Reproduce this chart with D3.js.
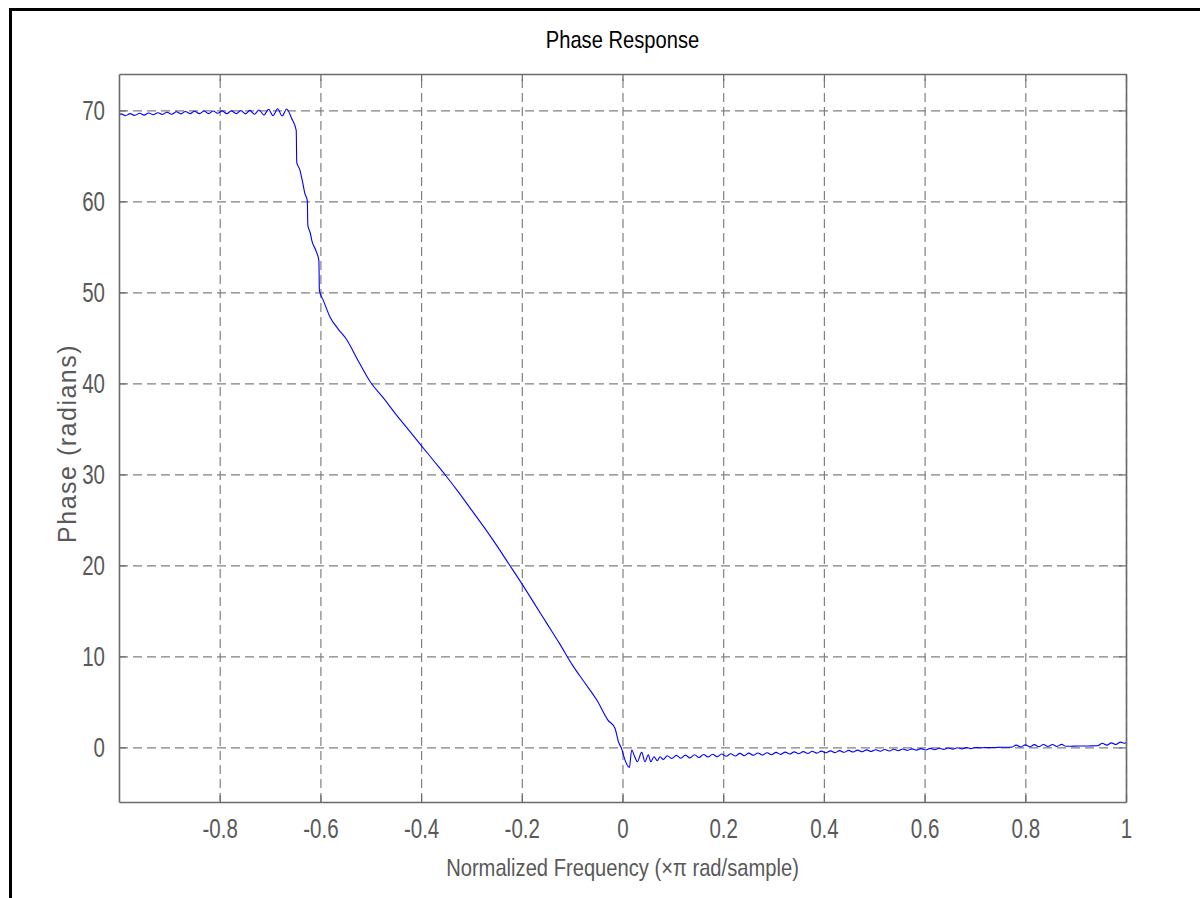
<!DOCTYPE html>
<html>
<head>
<meta charset="utf-8">
<script src="https://cdn.jsdelivr.net/npm/d3@7"></script>
<style>
  body { margin: 0; background: #fff; }
  svg { display: block; }
  text { font-family: "Liberation Sans", Arial, sans-serif; }
</style>
</head>
<body>
<div id="chart"></div>
<script>
var title = "Phase Response";
var xLabel = "Normalized Frequency (\u00d7\u03c0 rad/sample)";
var yLabel = "Phase (radians)";

var xTicks = [-0.8, -0.6, -0.4, -0.2, 0, 0.2, 0.4, 0.6, 0.8, 1];
var yTicks = [0, 10, 20, 30, 40, 50, 60, 70];

// flat part before the drop
var freqA = [-1.000, -0.996, -0.987, -0.978, -0.969, -0.959, -0.950, -0.941, -0.932, -0.923, -0.914, -0.905,
  -0.895, -0.886, -0.877, -0.868, -0.859, -0.850, -0.840, -0.831, -0.822, -0.813, -0.804, -0.795, -0.786,
  -0.777, -0.767, -0.758, -0.749, -0.740, -0.731, -0.722, -0.712, -0.703, -0.694, -0.685, -0.676, -0.667];
var phaseA = [69.45, 69.62, 69.42, 69.65, 69.45, 69.68, 69.48, 69.72, 69.52, 69.75, 69.55, 69.80,
  69.58, 69.85, 69.62, 69.88, 69.65, 69.90, 69.65, 69.93, 69.65, 69.93, 69.68, 69.95, 69.65,
  69.95, 69.65, 69.98, 69.62, 70.00, 69.58, 70.05, 69.50, 70.12, 69.42, 70.18, 69.38, 70.15];

// drop and the long slope down to zero
var freqB = [-0.657, -0.648, -0.647, -0.641, -0.636, -0.631, -0.626, -0.625, -0.620, -0.617, -0.609, -0.603,
  -0.602, -0.594, -0.581, -0.565, -0.549, -0.525, -0.500, -0.475, -0.450, -0.425, -0.400, -0.375, -0.350,
  -0.325, -0.300, -0.275, -0.250, -0.225, -0.200, -0.175, -0.150, -0.125, -0.100, -0.075, -0.051, -0.029,
  -0.015, -0.008, -0.002, 0.005, 0.0136, 0.0183, 0.0235, 0.0294, 0.0381, 0.0447, 0.0513, 0.056, 0.0626,
  0.0692, 0.0745, 0.081];
var phaseB = [69.1, 67.8, 64.3, 63.5, 62.3, 60.9, 60.1, 57.4, 56.5, 55.7, 54.6, 53.5,
  50.2, 49.1, 47.3, 46.0, 44.9, 42.5, 40.1, 38.4, 36.6, 34.9, 33.2, 31.5, 29.8,
  28.0, 26.1, 24.2, 22.2, 20.1, 18.0, 15.8, 13.6, 11.4, 9.1, 7.1, 5.2, 3.0,
  2.1, 0.6, -0.1, -1.4, -2.2, -0.29, -0.91, -1.57, -0.55, -1.57, -0.8, -1.57, -1.02,
  -1.46, -1.02, -1.32];

// small ripple after zero
var freqC = [0.089, 0.098, 0.107, 0.116, 0.125, 0.134, 0.143, 0.152, 0.161, 0.170, 0.179, 0.188, 0.197,
  0.206, 0.215, 0.224, 0.233, 0.242, 0.251, 0.260, 0.269, 0.278, 0.287, 0.296, 0.305, 0.314, 0.323,
  0.332, 0.341, 0.350, 0.359, 0.368, 0.377, 0.386, 0.395, 0.404, 0.413, 0.422, 0.431, 0.440, 0.449,
  0.458, 0.467, 0.476, 0.485, 0.494, 0.503, 0.512, 0.521, 0.530, 0.539, 0.548, 0.557, 0.566, 0.575,
  0.584, 0.593, 0.602, 0.611, 0.620, 0.629, 0.638, 0.647, 0.656, 0.665, 0.674, 0.683, 0.692, 0.701];
var phaseC = [-0.92, -1.22, -0.88, -1.19, -0.85, -1.15, -0.81, -1.11, -0.78, -1.06, -0.75, -1.02, -0.72,
  -0.98, -0.69, -0.95, -0.66, -0.91, -0.63, -0.87, -0.61, -0.84, -0.58, -0.80, -0.55, -0.77, -0.52,
  -0.73, -0.49, -0.70, -0.46, -0.67, -0.43, -0.63, -0.41, -0.59, -0.38, -0.57, -0.35, -0.54, -0.33,
  -0.51, -0.30, -0.48, -0.27, -0.45, -0.25, -0.42, -0.23, -0.39, -0.21, -0.36, -0.18, -0.33, -0.16,
  -0.30, -0.13, -0.28, -0.11, -0.25, -0.09, -0.22, -0.06, -0.19, -0.04, -0.16, -0.02, -0.13, -0.01];

// tail up to pi
var freqD = [0.710, 0.719, 0.728, 0.737, 0.746, 0.755, 0.764, 0.773, 0.782, 0.791, 0.800, 0.809, 0.818,
  0.827, 0.836, 0.845, 0.854, 0.863, 0.872, 0.881, 0.890, 0.908, 0.926, 0.944, 0.953, 0.962, 0.971,
  0.980, 0.989, 0.998, 1.000];
var phaseD = [-0.04, -0.03, -0.02, -0.01, 0.00, 0.01, 0.02, 0.03, 0.25, 0.05, 0.28, 0.07, 0.30,
  0.08, 0.32, 0.10, 0.32, 0.11, 0.33, 0.12, 0.13, 0.15, 0.16, 0.18, 0.45, 0.25, 0.50,
  0.32, 0.58, 0.45, 0.55];

var freq = freqA.concat(freqB, freqC, freqD);
var phase = phaseA.concat(phaseB, phaseC, phaseD);
var data = freq.map(function(f, i) { return { f: f, p: phase[i] }; });

var W = 1200, H = 898;
var margin = { left: 119, top: 74, right: 74, bottom: 96 };
var width = W - margin.left - margin.right;
var height = H - margin.top - margin.bottom;
var narrow = 0.76; // the picture uses a condensed face; squeeze a normal one

var svg = d3.select("#chart").append("svg")
    .attr("width", W)
    .attr("height", H);

// figure frame (only left and top edges are in view)
svg.append("path")
    .attr("d", "M10.5," + H + "V9.5H" + W)
    .attr("fill", "none")
    .attr("stroke", "#000")
    .attr("stroke-width", 3);

var x = d3.scaleLinear().domain([-1, 1]).range([0, width]);
var y = d3.scaleLinear().domain([-6, 74]).range([height, 0]);

var g = svg.append("g")
    .attr("transform", "translate(" + margin.left + "," + margin.top + ")");

// dashed grid
g.append("g")
    .attr("class", "grid")
    .attr("transform", "translate(0," + height + ")")
    .call(d3.axisBottom(x).tickValues(xTicks).tickSize(-height).tickFormat(""))
    .call(function(s) { s.select(".domain").remove(); });
g.append("g")
    .attr("class", "grid")
    .call(d3.axisLeft(y).tickValues(yTicks).tickSize(-width).tickFormat(""))
    .call(function(s) { s.select(".domain").remove(); });
g.selectAll(".grid line")
    .attr("stroke", "#808080")
    .attr("stroke-width", 1.2)
    .attr("stroke-dasharray", "9,5");

// the curve
var line = d3.line()
    .curve(d3.curveMonotoneX)
    .x(function(d) { return x(d.f); })
    .y(function(d) { return y(d.p); });

g.append("path")
    .datum(data)
    .attr("fill", "none")
    .attr("stroke", "#0000ff")
    .attr("stroke-width", 1.1)
    .attr("stroke-linejoin", "round")
    .attr("d", line);

// axes with inward ticks
function fmt(d) { return String(+d.toFixed(1)); }

var xAxis = g.append("g")
    .attr("transform", "translate(0," + height + ")")
    .call(d3.axisBottom(x).tickValues(xTicks).tickSizeInner(-7).tickSizeOuter(0).tickPadding(17).tickFormat(fmt));
var xTop = g.append("g")
    .call(d3.axisTop(x).tickValues(xTicks).tickSizeInner(-7).tickSizeOuter(0).tickFormat(""));
var yAxis = g.append("g")
    .call(d3.axisLeft(y).tickValues(yTicks).tickSizeInner(-7).tickSizeOuter(0).tickPadding(14).tickFormat(fmt));
var yRight = g.append("g")
    .attr("transform", "translate(" + width + ",0)")
    .call(d3.axisRight(y).tickValues(yTicks).tickSizeInner(-7).tickSizeOuter(0).tickFormat(""));

[xAxis, xTop, yAxis, yRight].forEach(function(a) {
  a.selectAll(".domain").attr("stroke", "#6b6b6b").attr("stroke-width", 1.6);
  a.selectAll(".tick line").attr("stroke", "#6b6b6b").attr("stroke-width", 1.2);
  a.selectAll(".tick text")
    .attr("font-family", "'Liberation Sans', Arial, sans-serif")
    .attr("font-size", 27)
    .attr("fill", "#595959");
});
// squeeze tick labels horizontally around their anchor
xAxis.selectAll(".tick text").attr("transform", "scale(" + narrow + ",1)");
yAxis.selectAll(".tick text").each(function() {
  var t = d3.select(this);
  var tx = +t.attr("x");
  t.attr("x", 0).attr("transform", "translate(" + tx + ",0) scale(" + narrow + ",1)");
});

// texts
svg.append("text")
    .attr("transform", "translate(" + (margin.left + width / 2) + ",48) scale(0.84,1)")
    .attr("text-anchor", "middle")
    .attr("font-size", 24)
    .attr("fill", "#000")
    .text(title);

svg.append("text")
    .attr("transform", "translate(" + (margin.left + width / 2) + ",876) scale(0.84,1)")
    .attr("text-anchor", "middle")
    .attr("font-size", 24)
    .attr("fill", "#595959")
    .text(xLabel);

svg.append("text")
    .attr("transform", "translate(76," + (margin.top + y(40) + 60) + ") rotate(-90)")
    .attr("text-anchor", "middle")
    .attr("font-size", 25)
    .attr("letter-spacing", 1.5)
    .attr("fill", "#595959")
    .text(yLabel);
</script>
</body>
</html>
